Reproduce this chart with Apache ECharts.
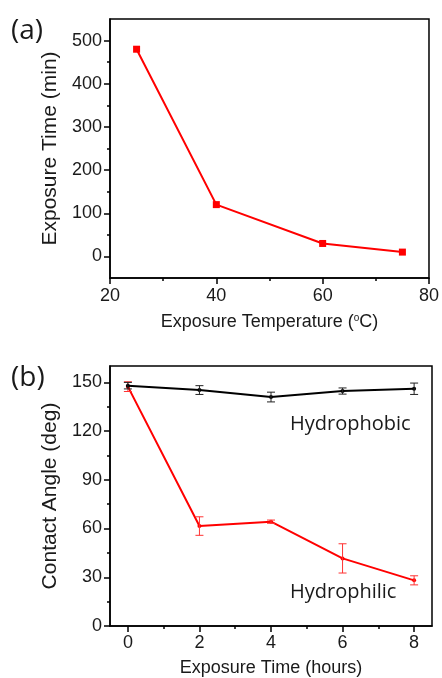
<!DOCTYPE html>
<html>
<head>
<meta charset="utf-8">
<script src="https://cdn.jsdelivr.net/npm/echarts@6/dist/echarts.min.js"></script>
<style>
  html, body { margin: 0; padding: 0; background: #fff; }
  #chart { width: 442px; height: 678px; }
</style>
</head>
<body>
<div id="chart"></div>
<script>
// (a) exposure time vs temperature
const tempC = [25, 40, 60, 75];
const exposureMin = [480, 120, 30, 10];
const yTicksA = [0, 100, 200, 300, 400, 500];
const yMinorA = [50, 150, 250, 350, 450];

// (b) contact angle vs exposure time
const hours = [0, 2, 4, 6, 8];
const phobicAngle = [147.9, 145.2, 140.9, 144.6, 146];
const phobicErr = [2, 2.7, 3, 1.9, 3.5];
const philicAngle = [147.3, 61.5, 64.2, 41.6, 28.1];
const philicErr = [3, 5.7, 1, 9, 2.8];
const xTicksB = [0, 2, 4, 6, 8];
const xMinorB = [1, 3, 5, 7];
const yTicksB = [0, 30, 60, 90, 120, 150];
const yMinorB = [15, 45, 75, 105, 135];

const FONT = '"Liberation Sans", Arial, sans-serif';
const ANNOT = '"Open Sans", sans-serif';
const INK = '#1a1a1a';

const pairs = (xs, ys) => xs.map((x, i) => [x, ys[i]]);
const bars = (xs, ys, es) => xs.map((x, i) => [x, ys[i] - es[i], ys[i] + es[i]]);

function errorBars(color) {
  return function (params, api) {
    const x = api.value(0);
    const lo = api.coord([x, api.value(1)]);
    const hi = api.coord([x, api.value(2)]);
    const w = 4;
    const style = { stroke: color, lineWidth: 1 };
    return {
      type: 'group',
      children: [
        { type: 'line', shape: { x1: lo[0], y1: lo[1], x2: hi[0], y2: hi[1] }, style: style },
        { type: 'line', shape: { x1: lo[0] - w, y1: lo[1], x2: lo[0] + w, y2: lo[1] }, style: style },
        { type: 'line', shape: { x1: hi[0] - w, y1: hi[1], x2: hi[0] + w, y2: hi[1] }, style: style }
      ]
    };
  };
}

const axisLine = { show: true, onZero: false, lineStyle: { color: '#000', width: 1.5 } };
const hiddenLine = { show: false, onZero: false };
const majorTick = (vals) => ({ show: true, length: 6, customValues: vals, lineStyle: { color: '#000', width: 1.5 } });
const minorTickAxis = (vals) => ({ show: true, length: 3, customValues: vals, lineStyle: { color: '#000', width: 1.5 } });
const label = (vals) => ({ customValues: vals, color: INK, fontSize: 18, fontFamily: FONT, margin: 8 });

const chart = echarts.init(document.getElementById('chart'));

chart.setOption({
  backgroundColor: '#fff',
  animation: false,
  textStyle: { fontFamily: FONT },
  grid: [
    { left: 110, top: 19, width: 322, height: 259, show: true, borderColor: '#000', borderWidth: 1.5 },
    { left: 110, top: 366, width: 322, height: 260, show: true, borderColor: '#000', borderWidth: 1.5 }
  ],
  xAxis: [
    {
      gridIndex: 0, type: 'value', min: 20, max: 80, interval: 20, position: 'bottom',
      axisLine: axisLine,
      axisTick: { show: true, length: 6, lineStyle: { color: '#000', width: 1.5 } },
      minorTick: { show: true, splitNumber: 2, length: 3, lineStyle: { color: '#000', width: 1.5 } },
      axisLabel: { color: INK, fontSize: 18, fontFamily: FONT, margin: 9 },
      splitLine: { show: false },
      name: 'Exposure Temperature ({sup|o}C)', nameLocation: 'middle', nameGap: 35,
      nameTextStyle: {
        color: INK, fontSize: 18, fontFamily: FONT,
        rich: { sup: { fontSize: 10, fontFamily: FONT, color: INK, padding: [0, 0, 9, 0] } }
      }
    },
    {
      gridIndex: 1, type: 'value', min: -0.5, max: 8.5, position: 'bottom',
      axisLine: axisLine, axisTick: majorTick(xTicksB), axisLabel: label(xTicksB),
      splitLine: { show: false },
      name: 'Exposure Time (hours)', nameLocation: 'middle', nameGap: 33,
      nameTextStyle: { color: INK, fontSize: 18, fontFamily: FONT }
    },
    {
      gridIndex: 1, type: 'value', min: -0.5, max: 8.5, position: 'bottom', offset: 0,
      axisLine: hiddenLine, axisTick: minorTickAxis(xMinorB), axisLabel: { show: false },
      splitLine: { show: false }
    }
  ],
  yAxis: [
    {
      gridIndex: 0, type: 'value', min: -50, max: 550, position: 'left',
      axisLine: axisLine, axisTick: majorTick(yTicksA), axisLabel: label(yTicksA),
      splitLine: { show: false },
      name: 'Exposure Time (min)', nameLocation: 'middle', nameGap: 41,
      nameTextStyle: { color: INK, fontSize: 21, fontFamily: FONT }
    },
    {
      gridIndex: 0, type: 'value', min: -50, max: 550, position: 'left', offset: 0,
      axisLine: hiddenLine, axisTick: minorTickAxis(yMinorA), axisLabel: { show: false },
      splitLine: { show: false }
    },
    {
      gridIndex: 1, type: 'value', min: 0, max: 160, position: 'left',
      axisLine: axisLine, axisTick: majorTick(yTicksB), axisLabel: label(yTicksB),
      splitLine: { show: false },
      name: 'Contact Angle (deg)', nameLocation: 'middle', nameGap: 41,
      nameTextStyle: { color: INK, fontSize: 21, fontFamily: FONT }
    },
    {
      gridIndex: 1, type: 'value', min: 0, max: 160, position: 'left', offset: 0,
      axisLine: hiddenLine, axisTick: minorTickAxis(yMinorB), axisLabel: { show: false },
      splitLine: { show: false }
    }
  ],
  series: [
    {
      name: 'Exposure time', type: 'line', xAxisIndex: 0, yAxisIndex: 0,
      data: pairs(tempC, exposureMin),
      symbol: 'rect', symbolSize: 7,
      lineStyle: { color: '#ff0000', width: 2 },
      itemStyle: { color: '#ff0000' }
    },
    {
      name: 'Hydrophobic', type: 'line', xAxisIndex: 1, yAxisIndex: 2,
      data: pairs(hours, phobicAngle),
      symbol: 'circle', symbolSize: 4,
      lineStyle: { color: '#000', width: 2 },
      itemStyle: { color: '#000' }, z: 3
    },
    {
      name: 'Hydrophilic', type: 'line', xAxisIndex: 1, yAxisIndex: 2,
      data: pairs(hours, philicAngle),
      symbol: 'circle', symbolSize: 4,
      lineStyle: { color: '#ff0000', width: 2 },
      itemStyle: { color: '#ff0000' }, z: 2
    },
    {
      type: 'custom', xAxisIndex: 1, yAxisIndex: 2,
      renderItem: errorBars('#222'),
      encode: { x: 0, y: [1, 2] },
      data: bars(hours, phobicAngle, phobicErr), z: 4
    },
    {
      type: 'custom', xAxisIndex: 1, yAxisIndex: 2,
      renderItem: errorBars('#ff3333'),
      encode: { x: 0, y: [1, 2] },
      data: bars(hours, philicAngle, philicErr), z: 3
    }
  ],
  graphic: [
    { type: 'text', x: 11, y: 31, style: { text: '(a)', fontSize: 28, fontFamily: ANNOT, fill: INK, align: 'left', verticalAlign: 'middle' } },
    { type: 'text', x: 11, y: 378, style: { text: '(b)', fontSize: 28, fontFamily: ANNOT, fill: INK, align: 'left', verticalAlign: 'middle' } },
    { type: 'text', x: 290, y: 424, style: { text: 'Hydrophobic', fontSize: 20, fontFamily: ANNOT, fill: INK, align: 'left', verticalAlign: 'middle' } },
    { type: 'text', x: 290, y: 592, style: { text: 'Hydrophilic', fontSize: 20, fontFamily: ANNOT, fill: INK, align: 'left', verticalAlign: 'middle' } }
  ]
});
</script>
</body>
</html>
